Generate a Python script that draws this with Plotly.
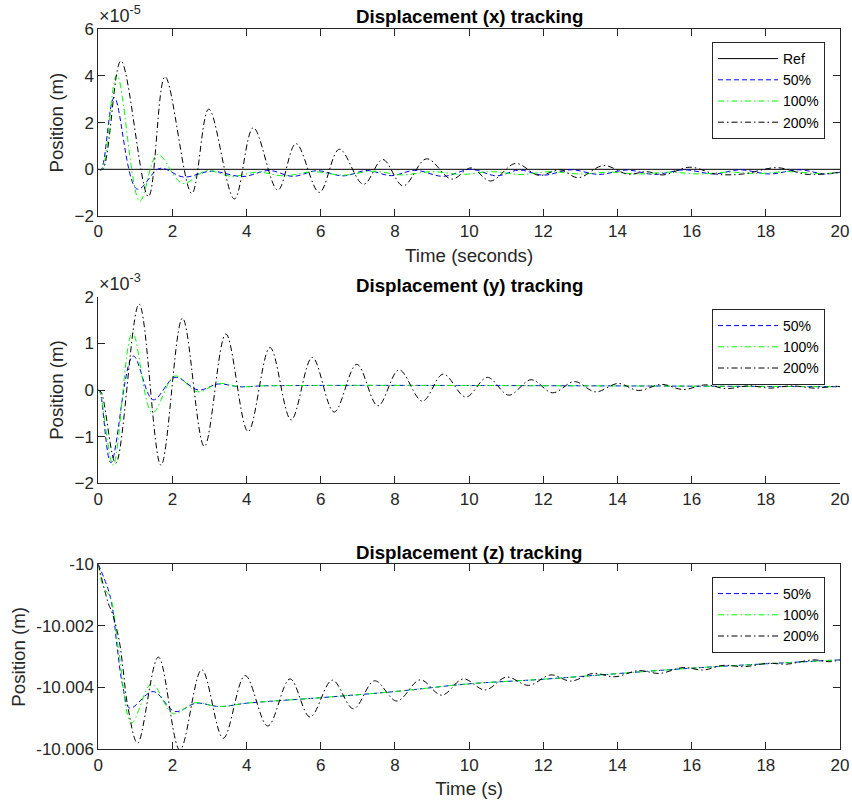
import plotly.graph_objects as go

# ---------------- data ----------------
# Displacement x, values in units of 1e-5 m
tx_ref = [0, 20]
x_ref = [0, 0]

tx_50 = [0, 0.08, 0.43, 1.05, 1.66, 2.30, 3.05, 3.90, 4.60, 5.25, 5.90, 6.60, 7.25, 7.90, 8.55,
         9.30, 10.05, 10.75, 11.35, 12.00, 12.75, 13.50, 14.25, 15.00, 15.80, 16.60, 17.30,
         18.10, 18.90, 19.60, 20.0]
x_50 = [0, 0, 3.07, -0.85, 0.04, -0.33, -0.08, -0.31, -0.05, -0.30, -0.06, -0.28, -0.05,
        -0.27, -0.04, -0.30, 0.00, -0.28, -0.03, -0.25, -0.02, -0.22, -0.03, -0.22, -0.02,
        -0.20, -0.02, -0.20, -0.02, -0.20, -0.12]

tx_100 = [0, 0.10, 0.50, 1.12, 1.60, 2.27, 2.92, 3.60, 4.30, 5.00, 5.80, 6.60, 7.40, 8.20,
          9.00, 9.80, 10.60, 11.40, 12.20, 13.00, 13.80, 14.60, 15.40, 16.20, 17.00, 17.80,
          18.60, 19.40, 20.0]
x_100 = [0, 0, 4.04, -1.36, 0.64, -0.60, -0.06, -0.30, -0.12, -0.28, -0.10, -0.25, -0.08,
         -0.24, -0.10, -0.22, -0.10, -0.22, -0.10, -0.20, -0.12, -0.20, -0.12, -0.20, -0.12,
         -0.18, -0.10, -0.18, -0.15]

tx_200 = [0, 0.12, 0.61, 1.35, 1.80, 2.52, 2.98, 3.67, 4.18, 4.84, 5.33, 5.96, 6.50, 7.15,
          7.67, 8.22, 8.85, 9.53, 10.05, 10.58, 11.25, 11.88, 12.45, 12.94, 13.62, 14.29,
          14.78, 15.23, 15.95, 16.67, 17.39, 18.29, 19.14, 20.0]
x_200 = [0, 0, 4.64, -1.17, 3.97, -1.03, 2.58, -1.27, 1.78, -0.89, 1.10, -0.99, 0.86, -0.64,
         0.42, -0.71, 0.45, -0.42, 0.06, -0.50, 0.25, -0.26, -0.02, -0.36, 0.16, -0.21,
         -0.10, -0.24, 0.09, -0.21, -0.20, 0.07, -0.22, -0.12]

# Displacement y, values in units of 1e-3 m
ty_50 = [0, 0.05, 0.34, 0.94, 1.48, 2.07, 2.70, 3.24, 3.80, 4.50, 20.0]
y_50 = [0, -0.05, -1.56, 0.73, -0.21, 0.27, 0.00, 0.13, 0.07, 0.09, 0.07]

ty_100 = [0, 0.05, 0.40, 0.92, 1.46, 2.07, 2.68, 3.25, 3.80, 4.50, 20.0]
y_100 = [0, -0.05, -1.61, 1.23, -0.49, 0.30, -0.04, 0.14, 0.07, 0.09, 0.07]

ty_200 = [0, 0.08, 0.47, 1.10, 1.69, 2.27, 2.86, 3.44, 4.04, 4.63, 5.20, 5.77, 6.36, 6.97,
          7.54, 8.11, 8.74, 9.30, 9.91, 10.49, 11.07, 11.67, 12.25, 12.84, 13.41, 14.02,
          14.56, 15.19, 15.77, 16.38, 16.92, 17.57, 18.11, 18.70, 19.32, 19.86, 20.0]
y_200 = [0, -0.05, -1.57, 1.84, -1.61, 1.54, -1.21, 1.20, -0.89, 0.91, -0.64, 0.70, -0.47,
         0.55, -0.34, 0.43, -0.24, 0.34, -0.15, 0.27, -0.11, 0.22, -0.06, 0.18, -0.04, 0.14,
         -0.01, 0.12, 0.01, 0.11, 0.03, 0.09, 0.04, 0.09, 0.04, 0.08, 0.07]

# Displacement z, values in m
tz_50 = [0, 0.27, 0.38, 0.51, 0.65, 0.85, 1.48, 2.07, 2.64, 3.26, 4.0, 6.0, 8.0, 10.0, 12.0,
         16.0, 20.0]
z_50 = [-10.0, -10.00083, -10.0014, -10.0027, -10.0039, -10.00468, -10.00414, -10.00479,
        -10.00452, -10.00463, -10.00452, -10.00434, -10.00414, -10.00389, -10.00374,
        -10.00338, -10.00311]

tz_100 = [0, 0.13, 0.33, 0.55, 0.9, 1.44, 2.02, 2.61, 3.26, 4.0, 6.0, 8.0, 10.0, 12.0, 16.0,
          20.0]
z_100 = [-10.0, -10.00072, -10.0011, -10.0028, -10.00516, -10.00389, -10.00486, -10.00451,
         -10.00463, -10.00452, -10.00434, -10.00414, -10.00389, -10.00374, -10.00338,
         -10.00311]

tz_200 = [0, 0.27, 0.38, 0.56, 0.67, 0.78, 1.06, 1.62, 2.20, 2.79, 3.37, 3.96, 4.57, 5.17,
          5.71, 6.31, 6.88, 7.45, 8.05, 8.68, 9.26, 9.84, 10.43, 11.01, 11.60, 12.20, 12.74,
          13.35, 13.93, 14.56, 15.14, 15.77, 16.31, 16.85, 17.43, 18.06, 18.56, 19.28, 19.73,
          20.0]
z_200 = [-10.0, -10.00127, -10.0016, -10.00246, -10.00343, -10.00451, -10.00582, -10.00302,
         -10.00604, -10.00343, -10.00566, -10.00362, -10.00526, -10.00373, -10.00497,
         -10.00377, -10.00470, -10.00379, -10.00445, -10.00376, -10.00426, -10.00373,
         -10.00409, -10.00367, -10.00394, -10.00360, -10.00380, -10.00355, -10.00366,
         -10.00346, -10.00355, -10.00336, -10.00344, -10.00329, -10.00333, -10.00322,
         -10.00325, -10.00311, -10.00317, -10.00311]

x_ticks = [0, 2, 4, 6, 8, 10, 12, 14, 16, 18, 20]
y1_ticks = [-2, 0, 2, 4, 6]
y2_ticks = [-2, -1, 0, 1, 2]
y3_ticks = [-10.006, -10.004, -10.002, -10.0]
y3_labels = ["-10.006", "-10.004", "-10.002", "-10"]

titles = ["Displacement (x) tracking", "Displacement (y) tracking", "Displacement (z) tracking"]

# ---------------- styling ----------------
W, H = 852, 805
FONT = "Liberation Sans, Arial, sans-serif"
AX = "#262626"
BLUE, GREEN, BLACK = "#0000ff", "#00ff00", "#000000"
DASH = "5px,3px"
DASHDOT = "6px,3px,1.5px,3px"

def px(xp):
    return xp / W

def py(yp):
    return 1 - yp / H

x_dom = [px(98.3), px(840)]
doms = [[py(216), py(29.3)], [py(483.3), py(296.7)], [py(749.3), py(564.3)]]

fig = go.Figure()

def add(t, v, name, color, dash, i, leg, width=1.0):
    sfx = "" if i == 1 else str(i)
    fig.add_trace(go.Scatter(
        x=t, y=v, name=name, mode="lines",
        line=dict(color=color, dash=dash, width=width, shape="spline", smoothing=1.0),
        xaxis="x" + sfx, yaxis="y" + sfx, legend=leg, hoverinfo="skip"))

add(tx_ref, x_ref, "Ref", BLACK, "solid", 1, "legend")
add(tx_50, x_50, "50%", BLUE, DASH, 1, "legend")
add(tx_100, x_100, "100%", GREEN, DASHDOT, 1, "legend")
add(tx_200, x_200, "200%", BLACK, DASHDOT, 1, "legend")

add(ty_50, y_50, "50%", BLUE, DASH, 2, "legend2")
add(ty_100, y_100, "100%", GREEN, DASHDOT, 2, "legend2")
add(ty_200, y_200, "200%", BLACK, DASHDOT, 2, "legend2")

add(tz_50, z_50, "50%", BLUE, DASH, 3, "legend3")
add(tz_100, z_100, "100%", GREEN, DASHDOT, 3, "legend3")
add(tz_200, z_200, "200%", BLACK, DASHDOT, 3, "legend3")

tickfont = dict(family=FONT, size=17, color=AX)
labfont = dict(family=FONT, size=18.7, color=AX)

def xaxis(i, box, title):
    d = dict(domain=x_dom, anchor="y" + ("" if i == 1 else str(i)), range=[0, 20],
             tickvals=x_ticks, ticks="inside", ticklen=7, tickcolor=AX, tickwidth=1,
             showline=True, linecolor=AX, linewidth=1, mirror="ticks" if box else False,
             showgrid=False, zeroline=False, tickfont=tickfont, automargin=False)
    if title:
        d["title"] = dict(text=title, font=labfont, standoff=8)
    return d

def yaxis(i, box, rng, tv, tt=None):
    d = dict(domain=doms[i - 1], anchor="x" + ("" if i == 1 else str(i)), range=rng,
             tickvals=tv, ticks="inside", ticklen=7, tickcolor=AX, tickwidth=1,
             showline=True, linecolor=AX, linewidth=1, mirror="ticks" if box else False,
             showgrid=False, zeroline=False, tickfont=tickfont, automargin=False,
             title=dict(text="Position (m)", font=labfont, standoff=5))
    if tt is not None:
        d["ticktext"] = tt
    return d

legcommon = dict(bgcolor="white", bordercolor=AX, borderwidth=1,
                 font=dict(family=FONT, size=14, color="black"),
                 xanchor="right", yanchor="top", itemwidth=60, tracegroupgap=0)

fig.update_layout(
    width=W, height=H, autosize=False,
    margin=dict(l=0, r=0, t=0, b=0, autoexpand=False),
    paper_bgcolor="white", plot_bgcolor="white",
    xaxis=xaxis(1, True, "Time (seconds)"),
    yaxis=yaxis(1, True, [-2, 6], y1_ticks),
    xaxis2=xaxis(2, False, None),
    yaxis2=yaxis(2, False, [-2, 2], y2_ticks),
    xaxis3=xaxis(3, True, "Time (s)"),
    yaxis3=yaxis(3, True, [-10.00602, -10.0], y3_ticks, y3_labels),
    legend=dict(x=px(825), y=py(42), **legcommon),
    legend2=dict(x=px(825), y=py(309), **legcommon),
    legend3=dict(x=px(825), y=py(577), **legcommon),
    showlegend=True,
)

ann = []
for title, yc in zip(titles, [17, 285, 552.5]):
    ann.append(dict(text="<b>" + title + "</b>", x=px(469), y=py(yc), xref="paper",
                    yref="paper", xanchor="center", yanchor="middle", showarrow=False,
                    font=dict(family=FONT, size=18.7, color="black")))
for expo, top in [("-5", 29.3), ("-3", 296.7)]:
    ann.append(dict(text="\u00d710<sup>" + expo + "</sup>", x=px(97), y=py(top - 1),
                    xref="paper", yref="paper", xanchor="left", yanchor="bottom",
                    showarrow=False, font=dict(family=FONT, size=18, color=AX)))
fig.update_layout(annotations=ann)

fig.write_html("out.html")
